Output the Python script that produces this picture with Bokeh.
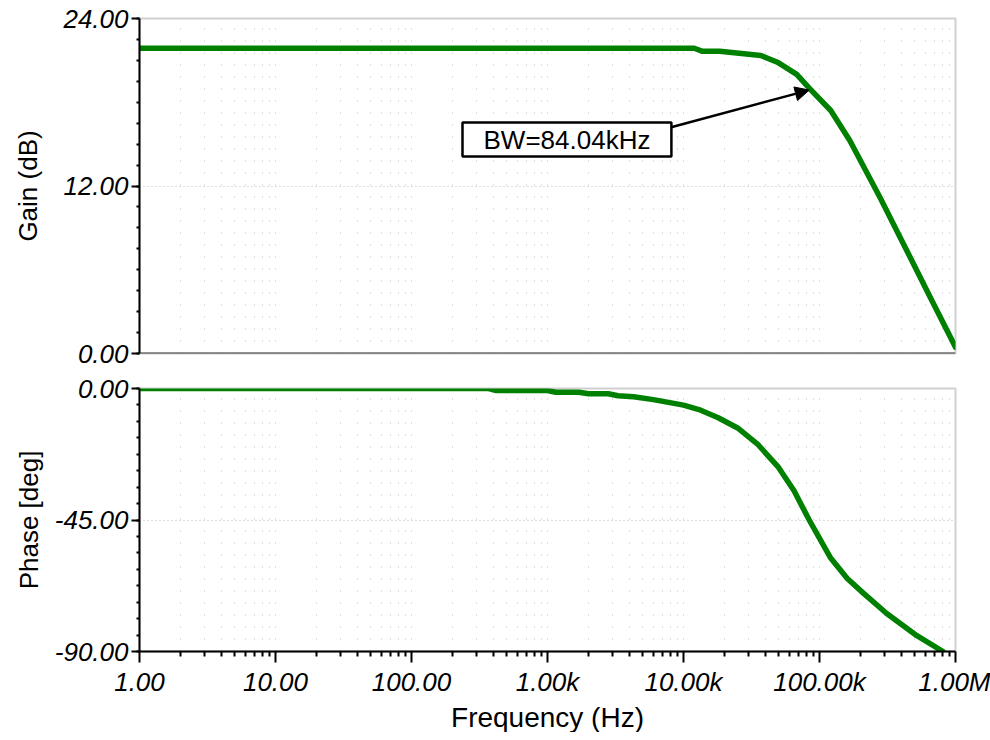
from bokeh.plotting import figure
from bokeh.models import FixedTicker, Label, Arrow, NormalHead, Span, Title
from bokeh.layouts import column
from bokeh.embed import file_html
from bokeh.resources import INLINE

# ---- data ----
gain_freq = [1, 12000, 13800, 18500, 37000, 49000, 68000, 85000, 121000,
             167000, 278000, 438000, 670000, 1000000]
gain_db = [21.87, 21.87, 21.65, 21.65, 21.35, 20.87, 20.0, 18.96, 17.41,
           15.26, 11.2, 7.38, 3.8, 0.45]

phase_freq = [1, 370, 420, 1000, 1150, 1700, 2000, 2800, 3300, 4300, 6000,
              10000, 13000, 18000, 25000, 35000, 50000, 65000, 84000,
              120000, 160000, 212000, 312000, 520000, 810000]
phase_deg = [0, 0, -0.7, -0.7, -1.3, -1.3, -1.8, -1.8, -2.5, -2.8, -3.8,
             -5.7, -7.2, -10, -13.5, -19, -27, -35, -45,
             -57.8, -65, -70.2, -77, -84.6, -90]

x_ticks = [1, 10, 100, 1000, 10000, 100000, 1000000]
x_tick_labels = ["1.00", "10.00", "100.00", "1.00k", "10.00k", "100.00k", "1.00M"]
gain_ticks = [0, 12, 24]
gain_tick_labels = ["0.00", "12.00", "24.00"]
phase_ticks = [-90, -45, 0]
phase_tick_labels = ["-90.00", "-45.00", "0.00"]

bw_freq = 84040
bw_gain = 18.87
bw_text = "BW=84.04kHz"

x_label = "Frequency (Hz)"
gain_label = "Gain (dB)"
phase_label = "Phase [deg]"

# ---- styling ----
FONT = "Liberation Sans"
FS = "26px"
GREEN = "#008000"
GRID = "#bcbcbc"
x_minor = [m * 10 ** d for d in range(6) for m in range(2, 10)]


def style_common(p, yticks, ylabels, ystep, ylabel, ystandoff):
    p.outline_line_color = "#d0d0d0"
    p.outline_line_width = 2
    p.background_fill_color = "white"
    p.border_fill_color = "white"
    xt = FixedTicker(ticks=x_ticks, minor_ticks=x_minor)
    p.xgrid.ticker = xt
    p.xgrid.grid_line_color = GRID
    p.xgrid.grid_line_dash = "1 11"
    p.xgrid.minor_grid_line_color = GRID
    p.xgrid.minor_grid_line_dash = "1 11"
    lo, hi = yticks[0], yticks[-1]
    n = int(round((hi - lo) / ystep))
    yminor = [lo + i * ystep for i in range(n + 1)]
    yt = FixedTicker(ticks=yticks, minor_ticks=yminor)
    ax = p.yaxis[0]
    ax.ticker = yt
    ax.major_label_overrides = {t: l for t, l in zip(yticks, ylabels)}
    ax.major_label_text_font = FONT
    ax.major_label_text_font_style = "italic"
    ax.major_label_text_font_size = FS
    ax.major_label_text_color = "black"
    ax.major_label_standoff = 3
    ax.axis_line_color = "black"
    ax.axis_line_width = 2
    ax.major_tick_line_color = "black"
    ax.major_tick_line_width = 2
    ax.major_tick_in = 0
    ax.major_tick_out = 8
    ax.minor_tick_line_color = "black"
    ax.minor_tick_line_width = 2
    ax.minor_tick_in = 0
    ax.minor_tick_out = 3
    ax.axis_label = ylabel
    ax.axis_label_text_font = FONT
    ax.axis_label_text_font_style = "normal"
    ax.axis_label_text_font_size = FS
    ax.axis_label_text_color = "black"
    ax.axis_label_standoff = ystandoff
    p.ygrid.ticker = FixedTicker(ticks=[yticks[1]])
    p.ygrid.grid_line_color = GRID
    p.ygrid.grid_line_dash = "1 3"


W = 990
LEFT = 139
RIGHT = 35
p1 = figure(width=W, height=368, x_axis_type="log", x_range=(1, 1e6),
            y_range=(0, 24), output_backend="svg", toolbar_location=None,
            min_border_left=LEFT, min_border_right=RIGHT, min_border_top=18,
            min_border_bottom=15)
style_common(p1, gain_ticks, gain_tick_labels, 1.5, gain_label, 17)
p1.xaxis.visible = False
p1.add_layout(Span(location=0, dimension="width", line_color="#3c3c3c",
                   line_width=2))
p1.line(gain_freq, gain_db, line_color=GREEN, line_width=5.5,
        line_cap="round", line_join="round")

arrow = Arrow(end=NormalHead(size=14, fill_color="black", line_color="black"),
              x_start=7500, y_start=16.12, x_end=bw_freq, y_end=bw_gain,
              line_color="black", line_width=2.5)
p1.add_layout(arrow)
p1.add_layout(Label(x=1390, y=15.33, text=bw_text, text_align="center",
                    text_baseline="middle", text_font=FONT,
                    text_font_size=FS, text_color="black",
                    background_fill_color="white", border_line_color="black",
                    border_line_width=2.5, padding=(21, 2)))

p2 = figure(width=W, height=364, x_axis_type="log", x_range=(1, 1e6),
            y_range=(-90, 0), output_backend="svg", toolbar_location=None,
            min_border_left=LEFT, min_border_right=RIGHT, min_border_top=20,
            min_border_bottom=76)
style_common(p2, phase_ticks, phase_tick_labels, 5.625, phase_label, 8)
xa = p2.xaxis[0]
xa.ticker = FixedTicker(ticks=x_ticks, minor_ticks=x_minor)
xa.major_label_overrides = {t: l for t, l in zip(x_ticks, x_tick_labels)}
xa.major_label_text_font = FONT
xa.major_label_text_font_style = "italic"
xa.major_label_text_font_size = FS
xa.major_label_text_color = "black"
xa.major_label_standoff = 4
xa.axis_line_color = "black"
xa.axis_line_width = 2
xa.major_tick_line_color = "black"
xa.major_tick_line_width = 2
xa.major_tick_in = 0
xa.major_tick_out = 11
xa.minor_tick_line_color = "black"
xa.minor_tick_line_width = 2
xa.minor_tick_in = 0
xa.minor_tick_out = 5
p2.add_layout(Title(text=x_label, align="center",
                    text_font=FONT, text_font_size="28px",
                    text_font_style="normal", text_color="black",
                    standoff=0), "below")
p2.line(phase_freq, phase_deg, line_color=GREEN, line_width=5.5,
        line_cap="round", line_join="round")

layout = column(p1, p2, spacing=0)
open("out.html", "w").write(file_html(layout, INLINE))
